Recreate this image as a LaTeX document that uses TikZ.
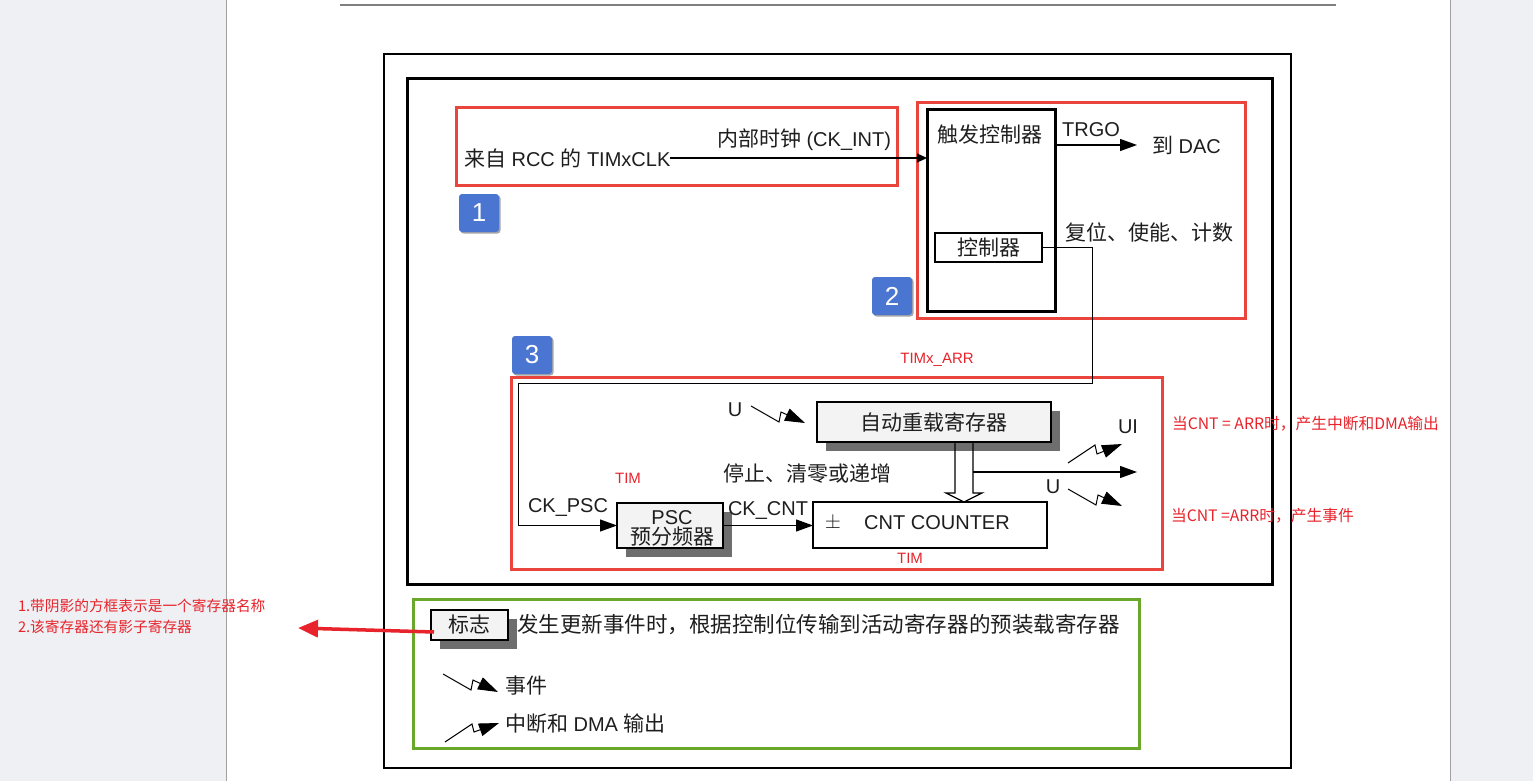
\documentclass[tikz,border=0pt]{standalone}
\usepackage{fontspec}
\setmainfont{Liberation Sans}
\newfontfamily\cjk[Scale=1.05]{Noto Sans CJK SC}
\usetikzlibrary{arrows.meta,shadows,calc}
\definecolor{pagebg}{HTML}{EEF0F4}
\definecolor{pageline}{HTML}{A0A0A0}
\definecolor{boxred}{HTML}{E9453D}
\definecolor{notered}{HTML}{E8232B}
\definecolor{badgeblue}{HTML}{4A76D1}
\definecolor{legendgreen}{HTML}{6AA82B}
\definecolor{shadowgray}{HTML}{6E6E6E}
\definecolor{regfill}{HTML}{F3F3F3}
\definecolor{ink}{HTML}{1E1E1E}
\begin{document}
\begin{tikzpicture}[x=1pt,y=-1pt,
  every node/.style={inner sep=0pt,outer sep=0pt,text=ink},
  txt/.style={font=\fontsize{20}{24}\selectfont},
  redtxt/.style={font=\fontsize{15}{18}\selectfont,text=notered},
  note/.style={font=\cjk\fontsize{14}{17}\selectfont,text=notered,anchor=west},
  rnote/.style={font=\cjk\fontsize{15}{18}\selectfont,text=notered,anchor=west},
  redframe/.style={draw=boxred,line width=3pt,anchor=north west},
  greenframe/.style={draw=legendgreen,line width=3pt,anchor=north west},
  blkbox/.style={draw=black,line width=3pt,anchor=north west,fill=white},
  thinbox/.style={draw=black,line width=2pt,anchor=north west,fill=white,font=\cjk\fontsize{20}{24}\selectfont},
  regbox/.style={draw=black,line width=2.6pt,anchor=north west,fill=regfill,
     drop shadow={shadow xshift=9pt,shadow yshift=-9pt,opacity=1,fill=shadowgray},
     font=\cjk\fontsize{20}{24}\selectfont},
  badge/.style={fill=badgeblue,rounded corners=3pt,text=white,anchor=north west,
     minimum width=40pt,minimum height=38pt,font=\fontsize{26}{28}\selectfont,
     drop shadow={shadow xshift=1.5pt,shadow yshift=-1.5pt,opacity=.35,fill=black}},
  conn/.style={draw=black,line width=1.2pt},
  tip/.style={-{Triangle[length=17pt,width=12pt]}},
  smalltip/.style={-{Triangle[length=10pt,width=9pt]}},
  zigline/.style={draw=black,line width=1pt,-{Triangle[length=20pt,width=13pt]}}
]
\useasboundingbox (0,0) rectangle (1533,781);
% page
\fill[pagebg] (0,0) rectangle (1533,781);
\fill[white] (226,0) rectangle (1450,781);
\draw[pageline,line width=1pt] (226,0) -- (226,781) (1450,0) -- (1450,781);
\draw[gray,line width=1.5pt] (340,5) -- (1336,5);
% frames
\node[draw=black,line width=1.3pt,anchor=north west,minimum width=907pt,minimum height=714pt] (outer) at (384,54) {};
\node[draw=black,line width=3pt,anchor=north west,minimum width=865pt,minimum height=505pt] (inner) at (407,79) {};
% red boxes
\node[redframe,minimum width=441pt,minimum height=77pt] (r1) at (456,108) {};
\node[redframe,minimum width=328pt,minimum height=215pt] (r2) at (917,103) {};
\node[redframe,minimum width=651pt,minimum height=192pt] (r3) at (511,377) {};
% badges
\node[badge] (b1) at (459,194) {1};
\node[badge] (b2) at (872,277) {2};
\node[badge] (b3) at (512,336) {3};
% section 1
\node[txt,anchor=west] (rcc) at (464,158) {{\cjk 来自} RCC {\cjk 的} TIMxCLK};
\node[txt,anchor=east] (ckint) at (891,140) {{\cjk 内部时钟} (CK\_INT)};
% section 2
\node[blkbox,minimum width=128pt,minimum height=201pt] (trig) at (927,110) {};
\node[txt,font=\cjk\fontsize{20}{24}\selectfont] (trigt) at (990,135) {触发控制器};
\node[thinbox,minimum width=107pt,minimum height=29pt] (ctrl) at (935,233) {控制器};
\draw[conn,smalltip] (rcc.east) -- (rcc.east -| trig.west);
\node[txt] (trgo) at (1091,130) {TRGO};
\node[txt,anchor=west] (dac) at (1152,145) {{\cjk 到} DAC};
\draw[conn,tip,shorten >=15pt] (trig.east |- dac.west) -- (dac.west);
\node[txt,font=\cjk\fontsize{20}{24}\selectfont] (rst) at (1149,232) {复位、使能、计数};
% section 3
\node[regbox,minimum width=106pt,minimum height=45pt] (psc) at (617,503) {};
\node[txt] (psct) at (672,518) {PSC};
\node[txt,font=\cjk\fontsize{20}{24}\selectfont] (psct2) at (672,537) {预分频器};
\node[regbox,minimum width=234pt,minimum height=40pt] (arr) at (817,402) {自动重载寄存器};
\node[blkbox,line width=2.6pt,minimum width=234pt,minimum height=46pt] (cnt) at (813,502) {};
\node[txt] (pm) at (833,523) {$\pm$};
\node[txt] (cntt) at (937,523) {CNT COUNTER};
\coordinate (fb1) at (1092,383);
\coordinate (fb2) at (518,383);
\draw[conn,line width=1pt,tip] (ctrl.east) -| (fb1) -- (fb2) -- (fb2 |- psc.west) -- (psc.west);
\draw[conn,tip] (psc.east) -- (cnt.west |- psc.east);
\node[txt,anchor=west] (ckpsc) at (528,507) {CK\_PSC};
\node[txt,anchor=west] (ckcnt) at (728,510) {CK\_CNT};
\node[txt,anchor=west,font=\cjk\fontsize{20}{24}\selectfont] (stop) at (723,474) {停止、清零或递增};
\node[txt] (u1) at (735,410) {U};
\draw[zigline] (751,406) -- ++(28,16) -- ++(2,-10) -- ++(24,11);
% hollow arrow ARR -> CNT
\coordinate (h1) at (955,443);
\coordinate (h2) at (973,443);
\draw[black,line width=1.3pt,line join=miter] (h1) -- (955,493) -- (946,493) -- (964,502) -- (982,493) -- (973,493) -- (h2);
\coordinate (uo) at (973,472);
\coordinate (uoe) at (1137,472);
\draw[conn,tip] (uo) -- (uoe);
\node[txt] (ui) at (1128,427) {UI};
\draw[zigline] (1068,463) -- ++(27,-18) -- ++(2,9) -- ++(25,-10);
\node[txt] (u2) at (1053,487) {U};
\draw[zigline] (1068,489) -- ++(28,16) -- ++(2,-10) -- ++(24,11);
% red labels
\node[redtxt] (timxarr) at (937,360) {TIMx\_ARR};
\node[redtxt] (tim1) at (628,478) {TIM};
\node[redtxt] (tim2) at (910,558) {TIM};
% legend
\node[greenframe,minimum width=726pt,minimum height=149pt] (leg) at (413,599) {};
\node[regbox,minimum width=77pt,minimum height=30pt] (flag) at (431,610) {标志};
\node[anchor=west,font=\cjk\fontsize{20.5}{24}\selectfont] (flagt) at (517,625) {发生更新事件时，根据控制位传输到活动寄存器的预装载寄存器};
\draw[zigline] (443,674) -- ++(28,16) -- ++(2,-10) -- ++(25,12);
\node[anchor=west,font=\cjk\fontsize{20}{24}\selectfont] (evt) at (505,686) {事件};
\draw[zigline] (445,742) -- ++(27,-18) -- ++(2,8) -- ++(25,-9);
\node[txt,anchor=west] (irq) at (505,724) {{\cjk 中断和} DMA {\cjk 输出}};
% annotations
\node[note] (n1) at (18,606) {1.带阴影的方框表示是一个寄存器名称};
\node[note] (n2) at (18,627) {2.该寄存器还有影子寄存器};
\coordinate (nt) at (298,628);
\draw[draw=notered,line width=3.5pt,-{Triangle[length=20pt,width=17pt]}] ($(flag.west)+(3,7)$) -- (nt);
\node[rnote] (n3) at (1172,424) {当CNT = ARR时，产生中断和DMA输出};
\node[rnote] (n4) at (1171,516) {当CNT =ARR时，产生事件};
\end{tikzpicture}
\end{document}
